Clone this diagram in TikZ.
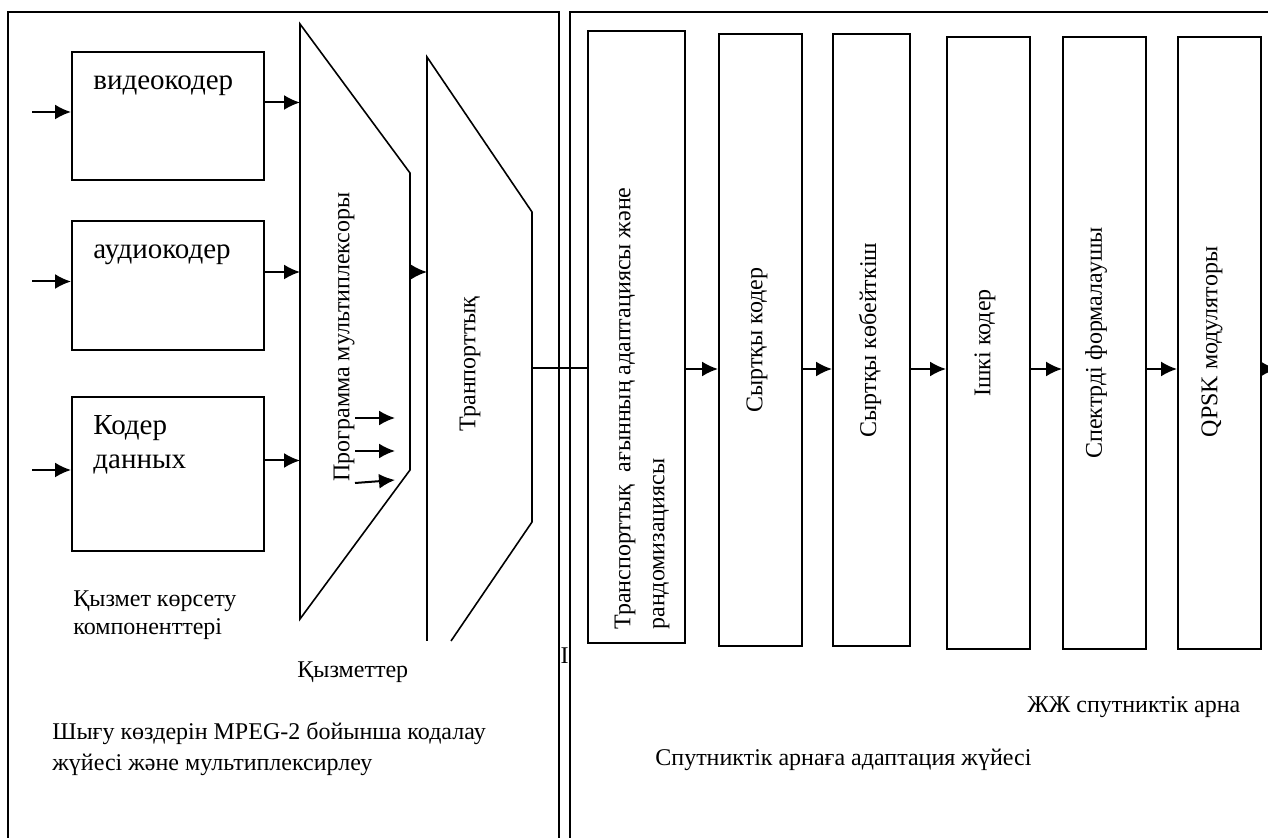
\documentclass[tikz,border=0pt]{standalone}
\usepackage{fontspec}
\setmainfont{Liberation Serif}
\usetikzlibrary{arrows.meta}

\begin{document}
\begin{tikzpicture}[x=0.5pt,y=-0.5pt,>={Latex[length=8pt,width=7.5pt]},
        frame/.style={line width=0.8pt},
        block/.style={draw,line width=1pt,inner sep=0pt},
        funnel/.style={line width=0.8pt},
        flow/.style={->,line width=1pt},
        big/.style={font=\fontsize{14.5}{17}\selectfont,inner sep=0pt},
        small/.style={font=\fontsize{12}{14}\selectfont,inner sep=0pt},
        vert/.style={font=\fontsize{12}{17}\selectfont,inner sep=0pt,rotate=90}]
        \useasboundingbox (0,0) rectangle (1268,838);

        \coordinate (M1) at (300, 24);
        \coordinate (M2) at (410,173);
        \coordinate (M3) at (410,470);
        \coordinate (M4) at (300,619);

        \coordinate (T1) at (427, 57);
        \coordinate (T2) at (532,212);
        \coordinate (T3) at (532,522);
        \coordinate (T4) at (451,641);
        \coordinate (T5) at (427,641);

        \coordinate (chain)  at (0,369);
        \coordinate (ts-out) at (532,368);
        \coordinate (rf-out) at (1277,369);

        \draw[frame] (8,850) -- (8,12) -- (559,12) -- (559,850);
        \draw[frame] (570,850) -- (570,12) -- (1290,12);

        \node[block,minimum width=96pt,minimum height=64pt]   (video) at (168,116)   {};
        \node[block,minimum width=96pt,minimum height=64.5pt] (audio) at (168,285.5) {};
        \node[block,minimum width=96pt,minimum height=77pt]   (data)  at (168,474)   {};

        \node[big,anchor=base west] (videotxt) at (93,90)  {видеокодер};
        \node[big,anchor=base west] (audiotxt) at (93,259) {аудиокодер};
        \node[big,anchor=base west,align=left] (datatxt) at (93,469) {Кодер\\данных};

        \draw[funnel] (M1) -- (M2) -- (M3) -- (M4) -- cycle;
        \draw[funnel] (T4) -- (T3) -- (T2) -- (T1) -- (T5);

        \foreach \blk/\ya in {video/32, audio/32, data/32} {
            \coordinate (\blk-in)  at ([yshift=2pt]\blk.west -| \ya,0);
            \coordinate (\blk-out) at ([yshift=6.75pt]\blk.east);
            \draw[flow] (\blk-in) -- (\blk-in -| \blk.west);
            \draw[flow] (\blk-out) -- (\blk-out -| M1);
        }
        \draw[flow] (audio-out -| M2) -- (audio-out -| T1);

        \foreach \ya/\yb [count=\i] in {418/418, 451/451, 483/480} {
            \coordinate (sel\i)    at (355,\ya);
            \coordinate (selend\i) at (395,\yb);
            \draw[flow] (sel\i) -- (selend\i);
        }

        \node[vert] (muxtxt)   at (344,337) {Программа мультиплексоры};
        \node[vert] (transtxt) at (470,364) {Транпорттық};

        \foreach \name/\cx/\cy/\w in {adapt/636.5/337/48.5, outcod/760.5/340/41.5,
                inter/871.5/340/38.5, incod/988.5/343/41.5,
                shape/1104.5/343/41.5, qpsk/1219.5/343/41.5}
            \node[block,minimum width=\w pt,minimum height=306pt] (\name) at (\cx,\cy) {};

        \node[vert,anchor=west,align=left] (adapttxt) at (642,630)
            {Транспорттық\ \ ағынның адаптациясы және\\рандомизациясы};
        \node[vert] (outcodtxt) at (757,340)  {Сыртқы кодер};
        \node[vert] (intertxt)  at (870,340)  {Сыртқы көбейткіш};
        \node[vert] (incodtxt)  at (985,343)  {Ішкі кодер};
        \node[vert] (shapetxt)  at (1096,343) {Спектрді формалаушы};
        \node[vert] (qpsktxt)   at (1212,342) {QPSK модуляторы};

        \draw[funnel] (ts-out) -- (ts-out -| adapt.west);
        \foreach \a/\b in {adapt/outcod, outcod/inter, inter/incod, incod/shape, shape/qpsk}
            \draw[flow] (\a.east |- chain) -- (\b.west |- chain);
        \draw[flow] (qpsk.east |- chain) -- (rf-out);

        \node[small,anchor=base west,align=left,font=\fontsize{12}{14}\selectfont] (svctxt) at (73,635)
            {Қызмет көрсету\\компоненттері};
        \node[small,anchor=base west] (servtxt) at (297,677) {Қызметтер};
        \node[small,anchor=base west,align=left,font=\fontsize{12}{15.5}\selectfont] (mpegtxt) at (52,770)
            {Шығу көздерін MPEG-2 бойынша кодалау\\жүйесі және мультиплексирлеу};
        \node[small,anchor=base west] (adaptsys) at (655,765) {Спутниктік арнаға адаптация жүйесі};
        \node[small,anchor=base west] (rfch)     at (1027,712) {ЖЖ спутниктік арна};
        \node[small,anchor=base] (mark) at (564.5,663) {I};
    \end{tikzpicture}
\end{document}
